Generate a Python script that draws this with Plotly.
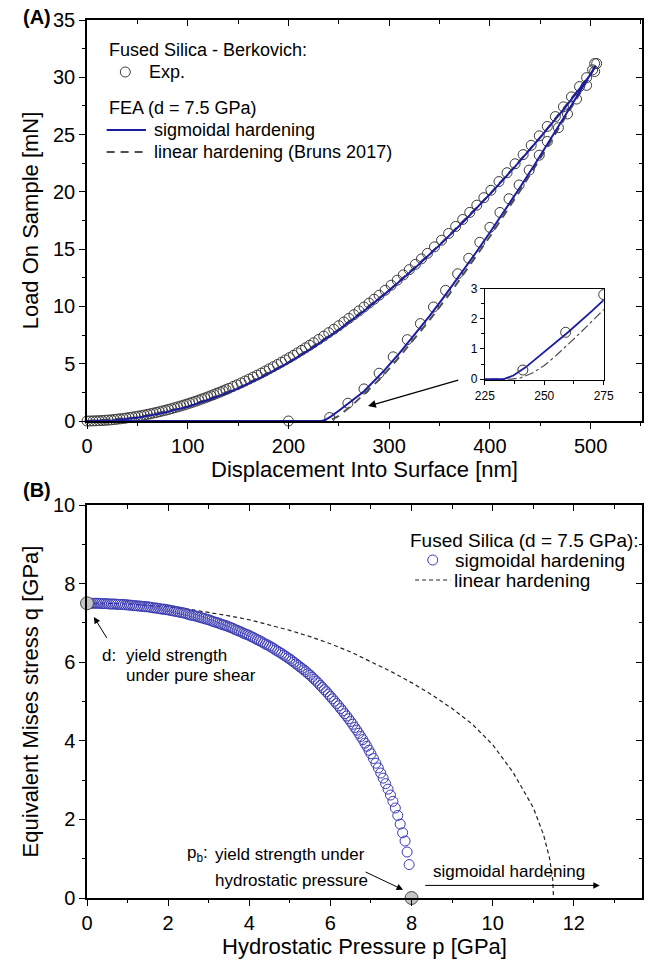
import plotly.graph_objects as go

# ---------------- Panel A data (Fused Silica - Berkovich) ----------------
exp_load_h = [0, 3, 6, 9, 12, 15, 18, 21, 24, 27, 30, 33, 36, 39, 42, 45, 48, 51, 54, 57,
              60, 63, 66, 69, 72, 75, 78, 81, 84, 87, 90, 93, 96, 99, 102, 105, 108, 111, 114, 117,
              120, 123, 126, 129, 132, 135, 138, 141, 145, 149, 153, 157, 161, 165, 169, 173, 177, 181, 185, 189,
              193, 197, 201, 205, 209, 213, 217, 221, 225, 230, 235, 240, 245, 250, 255, 260, 265, 270, 275, 280,
              285, 290, 296, 302, 308, 314, 320, 326, 332, 338, 345, 352, 359, 366, 373, 380, 387, 394, 401, 409,
              417, 425, 433, 441, 449, 457, 465, 473, 481, 489, 496, 502, 504, 506]
exp_load_P = [0.00, 0.00, 0.01, 0.02, 0.03, 0.04, 0.06, 0.08, 0.10, 0.13, 0.16, 0.19, 0.22, 0.26, 0.30, 0.34, 0.38, 0.43, 0.47, 0.52,
              0.58, 0.63, 0.69, 0.75, 0.81, 0.88, 0.94, 1.01, 1.08, 1.16, 1.23, 1.31, 1.39, 1.47, 1.56, 1.64, 1.73, 1.82, 1.92, 2.01,
              2.11, 2.21, 2.31, 2.42, 2.52, 2.63, 2.74, 2.85, 3.01, 3.16, 3.32, 3.49, 3.66, 3.83, 4.00, 4.18, 4.36, 4.55, 4.74, 4.93,
              5.13, 5.33, 5.53, 5.74, 5.95, 6.17, 6.39, 6.61, 6.83, 7.12, 7.41, 7.71, 8.01, 8.32, 8.64, 8.96, 9.28, 9.61, 9.95, 10.29,
              10.63, 10.98, 11.41, 11.85, 12.29, 12.75, 13.21, 13.67, 14.15, 14.63, 15.20, 15.78, 16.37, 16.98, 17.59, 18.21, 18.84, 19.49, 20.14, 20.90,
              21.67, 22.45, 23.25, 24.06, 24.89, 25.71, 26.57, 27.42, 28.29, 29.19, 29.97, 30.65, 31.20, 31.20]
exp_unload_h = [504, 496, 486, 477, 468, 457, 449, 439, 429, 419, 410, 400, 390, 379, 368, 356, 344, 331, 318, 304,
                290, 275, 259, 241, 200]
exp_unload_P = [30.5, 29.3, 28.1, 26.8, 25.6, 24.4, 23.2, 21.9, 20.6, 19.4, 18.2, 16.9, 15.6, 14.2, 12.85, 11.4, 9.95, 8.5, 7.1, 5.6,
                4.17, 2.8, 1.55, 0.3, 0.0]

# FEA, sigmoidal hardening (loading then unloading)
sig_h = [0, 25, 50, 75, 100, 125, 150, 175, 200, 225, 250, 275, 300, 325, 350, 375, 400, 425, 450, 475, 500, 505,
         490, 475, 460, 445, 430, 415, 400, 385, 370, 355, 340, 325, 310, 295, 280, 275, 270, 260, 250, 242, 237, 233, 0]
sig_P = [0, 0.05, 0.28, 0.70, 1.25, 1.98, 2.85, 3.90, 5.10, 6.45, 7.95, 9.60, 11.40, 13.30, 15.35, 17.50, 19.80, 22.20, 24.75, 27.40, 30.25, 31.0,
         28.85, 26.70, 24.55, 22.45, 20.40, 18.40, 16.45, 14.55, 12.70, 10.90, 9.15, 7.50, 5.90, 4.40, 2.98, 2.60, 2.25, 1.55, 0.90, 0.38, 0.12, 0, 0]

# FEA, linear hardening (Bruns 2017)
lin_h = [0, 50, 100, 150, 200, 250, 300, 350, 400, 450, 500, 505,
         490, 460, 430, 400, 380, 360, 340, 320, 305, 290, 275, 270, 265, 260, 255, 250, 245, 240, 236, 0]
lin_P = [0, 0.30, 1.27, 2.88, 5.12, 7.98, 11.42, 15.37, 19.80, 24.75, 30.25, 31.0,
         28.70, 24.35, 20.10, 16.10, 13.55, 11.10, 8.80, 6.60, 5.05, 3.60, 2.30, 1.90, 1.52, 1.15, 0.78, 0.45, 0.20, 0.04, 0, 0]

# ---------------- Panel B data (yield surfaces) ----------------
sigB_p = [0.05, 0.10, 0.15, 0.20, 0.25, 0.30, 0.35, 0.40, 0.45, 0.50, 0.55, 0.60, 0.65, 0.70, 0.75, 0.80, 0.85, 0.90, 0.95, 1.00,
          1.05, 1.10, 1.15, 1.20, 1.25, 1.30, 1.35, 1.40, 1.45, 1.50, 1.55, 1.60, 1.65, 1.70, 1.75, 1.80, 1.85, 1.90, 1.95, 2.00,
          2.05, 2.10, 2.15, 2.20, 2.25, 2.30, 2.35, 2.40, 2.45, 2.50, 2.55, 2.60, 2.65, 2.70, 2.75, 2.80, 2.85, 2.90, 2.95, 3.00,
          3.05, 3.10, 3.15, 3.20, 3.25, 3.30, 3.35, 3.40, 3.45, 3.50, 3.55, 3.60, 3.65, 3.70, 3.75, 3.80, 3.85, 3.90, 3.95, 4.00,
          4.05, 4.10, 4.15, 4.20, 4.25, 4.30, 4.35, 4.40, 4.45, 4.50, 4.55, 4.60, 4.65, 4.70, 4.75, 4.80, 4.85, 4.90, 4.95, 5.00,
          5.05, 5.10, 5.15, 5.20, 5.25, 5.30, 5.35, 5.40, 5.45, 5.50, 5.55, 5.60, 5.65, 5.70, 5.75, 5.80, 5.85, 5.90, 5.95, 6.00,
          6.05, 6.10, 6.15, 6.20, 6.25, 6.30, 6.35, 6.40, 6.45, 6.50, 6.55, 6.60, 6.65, 6.70, 6.75, 6.80, 6.85, 6.90, 6.95, 7.00,
          7.06, 7.12, 7.18, 7.24, 7.30, 7.36, 7.42, 7.48, 7.54, 7.60, 7.66, 7.72, 7.78, 7.84, 7.89, 7.94]
sigB_q = [7.50, 7.50, 7.50, 7.50, 7.50, 7.50, 7.49, 7.49, 7.49, 7.49, 7.48, 7.48, 7.48, 7.48, 7.47, 7.47, 7.47, 7.47, 7.46, 7.46,
          7.45, 7.45, 7.44, 7.44, 7.43, 7.43, 7.42, 7.42, 7.41, 7.41, 7.40, 7.39, 7.38, 7.38, 7.37, 7.36, 7.35, 7.35, 7.34, 7.33,
          7.32, 7.31, 7.30, 7.29, 7.28, 7.27, 7.26, 7.25, 7.23, 7.22, 7.20, 7.19, 7.18, 7.17, 7.15, 7.14, 7.12, 7.11, 7.09, 7.08,
          7.06, 7.04, 7.02, 7.01, 6.99, 6.97, 6.95, 6.94, 6.92, 6.90, 6.88, 6.86, 6.83, 6.81, 6.79, 6.77, 6.74, 6.72, 6.70, 6.68,
          6.65, 6.63, 6.60, 6.57, 6.55, 6.52, 6.49, 6.46, 6.44, 6.41, 6.38, 6.35, 6.31, 6.28, 6.25, 6.22, 6.18, 6.15, 6.11, 6.08,
          6.04, 6.00, 5.96, 5.92, 5.88, 5.84, 5.80, 5.76, 5.71, 5.67, 5.62, 5.57, 5.52, 5.47, 5.41, 5.36, 5.30, 5.25, 5.19, 5.13,
          5.07, 5.01, 4.95, 4.89, 4.82, 4.76, 4.69, 4.63, 4.56, 4.49, 4.42, 4.34, 4.27, 4.19, 4.11, 4.03, 3.94, 3.86, 3.76, 3.67,
          3.55, 3.43, 3.31, 3.18, 3.05, 2.91, 2.77, 2.62, 2.46, 2.29, 2.10, 1.88, 1.66, 1.45, 1.17, 0.85]
linB_p = [0, 0.5, 1.0, 1.5, 2.0, 2.5, 3.0, 3.5, 4.0, 4.5, 5.0, 5.5, 6.0, 6.5, 7.0, 7.5, 8.0, 8.5, 9.0, 9.5,
          10.0, 10.5, 11.0, 11.25, 11.4, 11.48, 11.5]
linB_q = [7.50, 7.50, 7.48, 7.45, 7.41, 7.35, 7.27, 7.18, 7.08, 6.95, 6.81, 6.65, 6.47, 6.26, 6.02, 5.76, 5.48, 5.17, 4.82, 4.42,
          3.90, 3.20, 2.30, 1.62, 1.02, 0.46, 0.0]
yield_p = [0, 8]
yield_q = [7.5, 0]

# ---------------- layout helpers ----------------
W, H = 654, 966
ML, MR, MT, MB = 87, 2, 20, 68
PW = W - ML - MR
PH = H - MT - MB


def px(x):
    return (x - ML) / PW


def py(y):
    return (H - MB - y) / PH


FONT = "Liberation Sans, Arial, sans-serif"
BLUE = "#1c1ca0"
CIRC = "#3a3a3a"
BCIRC = "#3c3cb4"
GREYL = "#505050"

fig = go.Figure()

# ---- Panel A ----
fig.add_trace(go.Scatter(x=exp_load_h, y=exp_load_P, mode="markers", xaxis="x", yaxis="y", cliponaxis=False,
                         marker=dict(symbol="circle-open", size=10, color=CIRC, line=dict(width=1))))
fig.add_trace(go.Scatter(x=exp_unload_h, y=exp_unload_P, mode="markers", xaxis="x", yaxis="y", cliponaxis=False,
                         marker=dict(symbol="circle-open", size=10, color=CIRC, line=dict(width=1))))
fig.add_trace(go.Scatter(x=lin_h, y=lin_P, mode="lines", xaxis="x", yaxis="y", cliponaxis=False,
                         line=dict(color=GREYL, width=2, dash="8px,6px")))
fig.add_trace(go.Scatter(x=sig_h, y=sig_P, mode="lines", xaxis="x", yaxis="y", cliponaxis=False,
                         line=dict(color=BLUE, width=2)))

# ---- Inset ----
fig.add_trace(go.Scatter(x=lin_h, y=lin_P, mode="lines", xaxis="x3", yaxis="y3",
                         line=dict(color=GREYL, width=1.2, dash="dashdot")))
fig.add_trace(go.Scatter(x=sig_h, y=sig_P, mode="lines", xaxis="x3", yaxis="y3",
                         line=dict(color=BLUE, width=1.8)))
fig.add_trace(go.Scatter(x=exp_unload_h, y=exp_unload_P, mode="markers", xaxis="x3", yaxis="y3",
                         marker=dict(symbol="circle-open", size=10, color=CIRC, line=dict(width=1))))

# ---- Panel B ----
fig.add_trace(go.Scatter(x=linB_p, y=linB_q, mode="lines", xaxis="x2", yaxis="y2", cliponaxis=False,
                         line=dict(color="#222222", width=1.2, dash="4px,3px")))
fig.add_trace(go.Scatter(x=sigB_p, y=sigB_q, mode="markers", xaxis="x2", yaxis="y2", cliponaxis=False,
                         marker=dict(symbol="circle-open", size=10, color=BCIRC, line=dict(width=1))))
fig.add_trace(go.Scatter(x=yield_p, y=yield_q, mode="markers", xaxis="x2", yaxis="y2", cliponaxis=False,
                         marker=dict(symbol="circle", size=13, color="#c4c4c4", line=dict(color="#4a4a4a", width=1))))

# dummy traces for the mirrored (inward tick) axes
for xa, ya in [("x4", "y"), ("x", "y4"), ("x5", "y2"), ("x2", "y5")]:
    fig.add_trace(go.Scatter(x=[None], y=[None], xaxis=xa, yaxis=ya, mode="markers", hoverinfo="skip"))

tickfont = dict(family=FONT, size=20, color="black")
base = dict(showgrid=False, zeroline=False, showline=True, linecolor="black", linewidth=1.5,
            ticks="outside", ticklen=6, tickwidth=1.3, tickcolor="black", mirror=True,
            tickfont=tickfont)
mirror_base = dict(showgrid=False, zeroline=False, showline=False, ticks="inside", ticklen=6,
                   tickwidth=1.3, tickcolor="black", showticklabels=False)

yA = [py(421), 1.0]
yB = [0.0, py(505)]

fig.update_layout(
    width=W, height=H, margin=dict(l=ML, r=MR, t=MT, b=MB),
    paper_bgcolor="white", plot_bgcolor="white", showlegend=False,
    font=dict(family=FONT, color="black"),
    xaxis=dict(base, domain=[0, 1], anchor="y", range=[0, 551], tick0=0, dtick=100,
               minor=dict(dtick=50, tick0=0, ticks="outside", ticklen=3.5, tickwidth=1.3, tickcolor="black"),
               title=dict(text="Displacement Into Surface [nm]", font=dict(size=22), standoff=4)),
    yaxis=dict(base, domain=yA, anchor="x", range=[0, 35], tick0=0, dtick=5,
               minor=dict(dtick=2.5, tick0=0, ticks="outside", ticklen=3.5, tickwidth=1.3, tickcolor="black"),
               title=dict(text="Load On Sample [mN]", font=dict(size=22), standoff=8)),
    xaxis4=dict(mirror_base, domain=[0, 1], anchor="y", overlaying="x", side="top", range=[0, 551], tick0=0, dtick=100,
                minor=dict(dtick=50, tick0=0, ticks="inside", ticklen=3.5, tickwidth=1.3, tickcolor="black")),
    yaxis4=dict(mirror_base, domain=yA, anchor="x", overlaying="y", side="right", range=[0, 35], tick0=0, dtick=5,
                minor=dict(dtick=2.5, tick0=0, ticks="inside", ticklen=3.5, tickwidth=1.3, tickcolor="black")),
    xaxis3=dict(base, domain=[px(492), px(613)], anchor="y3", range=[225, 275], tick0=225, dtick=25,
                linewidth=1.2, ticklen=4, tickwidth=1, tickfont=dict(family=FONT, size=12, color="black"),
                minor=dict(dtick=12.5, tick0=225, ticks="outside", ticklen=2.5, tickwidth=1, tickcolor="black")),
    yaxis3=dict(base, domain=[py(380), py(288.5)], anchor="x3", range=[-0.03, 3], tick0=0, dtick=1,
                linewidth=1.2, ticklen=4, tickwidth=1, tickfont=dict(family=FONT, size=12, color="black"),
                minor=dict(dtick=0.5, tick0=0, ticks="outside", ticklen=2.5, tickwidth=1, tickcolor="black")),
    xaxis2=dict(base, domain=[0, 1], anchor="y2", range=[0, 13.68], tick0=0, dtick=2,
                minor=dict(dtick=1, tick0=0, ticks="outside", ticklen=3.5, tickwidth=1.3, tickcolor="black"),
                title=dict(text="Hydrostatic Pressure p [GPa]", font=dict(size=22), standoff=4)),
    yaxis2=dict(base, domain=yB, anchor="x2", range=[0, 10], tick0=0, dtick=2,
                minor=dict(dtick=1, tick0=0, ticks="outside", ticklen=3.5, tickwidth=1.3, tickcolor="black"),
                title=dict(text="Equivalent Mises stress q [GPa]", font=dict(size=22), standoff=8)),
    xaxis5=dict(mirror_base, domain=[0, 1], anchor="y2", overlaying="x2", side="top", range=[0, 13.68], tick0=0, dtick=2,
                minor=dict(dtick=1, tick0=0, ticks="inside", ticklen=3.5, tickwidth=1.3, tickcolor="black")),
    yaxis5=dict(mirror_base, domain=yB, anchor="x2", overlaying="y2", side="right", range=[0, 10], tick0=0, dtick=2,
                minor=dict(dtick=1, tick0=0, ticks="inside", ticklen=3.5, tickwidth=1.3, tickcolor="black")),
)

ann = []
shapes = []


def ptext(text, x, y, size, xanchor="left", bold=False):
    ann.append(dict(text=("<b>%s</b>" % text) if bold else text, x=px(x), y=py(y), xref="paper", yref="paper",
                    xanchor=xanchor, yanchor="middle", showarrow=False,
                    font=dict(family=FONT, size=size, color="black")))


def dtext(text, x, y, size, xr="x2", yr="y2"):
    ann.append(dict(text=text, x=x, y=y, xref=xr, yref=yr, xanchor="left", yanchor="middle",
                    showarrow=False, font=dict(family=FONT, size=size, color="black")))


def arrow(x, y, ax, ay, xr, yr, width=1.0):
    ann.append(dict(text="", x=x, y=y, ax=ax, ay=ay, xref=xr, yref=yr, axref=xr, ayref=yr,
                    showarrow=True, arrowhead=2, arrowsize=1.3, arrowwidth=width, arrowcolor="black"))


# panel labels
ptext("(A)", 20, 17, 20, bold=True)
ptext("(B)", 20, 490, 20, bold=True)

# legend A
ptext("Fused Silica - Berkovich:", 107, 50, 18)
shapes.append(dict(type="circle", xref="paper", yref="paper", xsizemode="pixel", ysizemode="pixel",
                   xanchor=px(126), yanchor=py(72), x0=-5, x1=5, y0=-5, y1=5, line=dict(color=CIRC, width=1)))
ptext("Exp.", 148, 72, 18)
ptext("FEA (d = 7.5 GPa)", 107, 108, 18)
shapes.append(dict(type="line", xref="paper", yref="paper", x0=px(107), x1=px(147), y0=py(130), y1=py(130),
                   line=dict(color=BLUE, width=2)))
ptext("sigmoidal hardening", 153, 130, 18)
shapes.append(dict(type="line", xref="paper", yref="paper", x0=px(107), x1=px(147), y0=py(152), y1=py(152),
                   line=dict(color=GREYL, width=2, dash="8px,6px")))
ptext("linear hardening (Bruns 2017)", 153, 152, 18)

# arrow to the inset
arrow(279, 1.3, 370, 3.6, "x", "y", 1.2)

# legend B
ptext("Fused Silica (d = 7.5 GPa):", 414, 540, 19)
shapes.append(dict(type="circle", xref="paper", yref="paper", xsizemode="pixel", ysizemode="pixel",
                   xanchor=px(439), yanchor=py(560), x0=-5, x1=5, y0=-5, y1=5, line=dict(color=BCIRC, width=1)))
ptext("sigmoidal hardening", 460, 560, 19)
shapes.append(dict(type="line", xref="paper", yref="paper", x0=px(421), x1=px(457), y0=py(580), y1=py(580),
                   line=dict(color="#222222", width=1.2, dash="4px,3px")))
ptext("linear hardening", 459, 580, 19)

# annotations B
dtext("d:", 0.31, 6.18, 17)
dtext("yield strength", 0.92, 6.18, 17)
dtext("under pure shear", 0.92, 5.65, 17)
arrow(0.17, 7.15, 0.51, 6.58, "x2", "y2")
dtext("p<sub>b</sub>:", 2.42, 1.11, 17)
dtext("yield strength under", 3.1, 1.11, 17)
dtext("hydrostatic pressure", 3.1, 0.44, 17)
arrow(7.79, 0.21, 6.83, 0.68, "x2", "y2")
dtext("sigmoidal hardening", 8.47, 0.68, 17)
arrow(12.64, 0.32, 8.3, 0.32, "x2", "y2")

fig.update_layout(annotations=ann, shapes=shapes)
fig.write_html("out.html")
